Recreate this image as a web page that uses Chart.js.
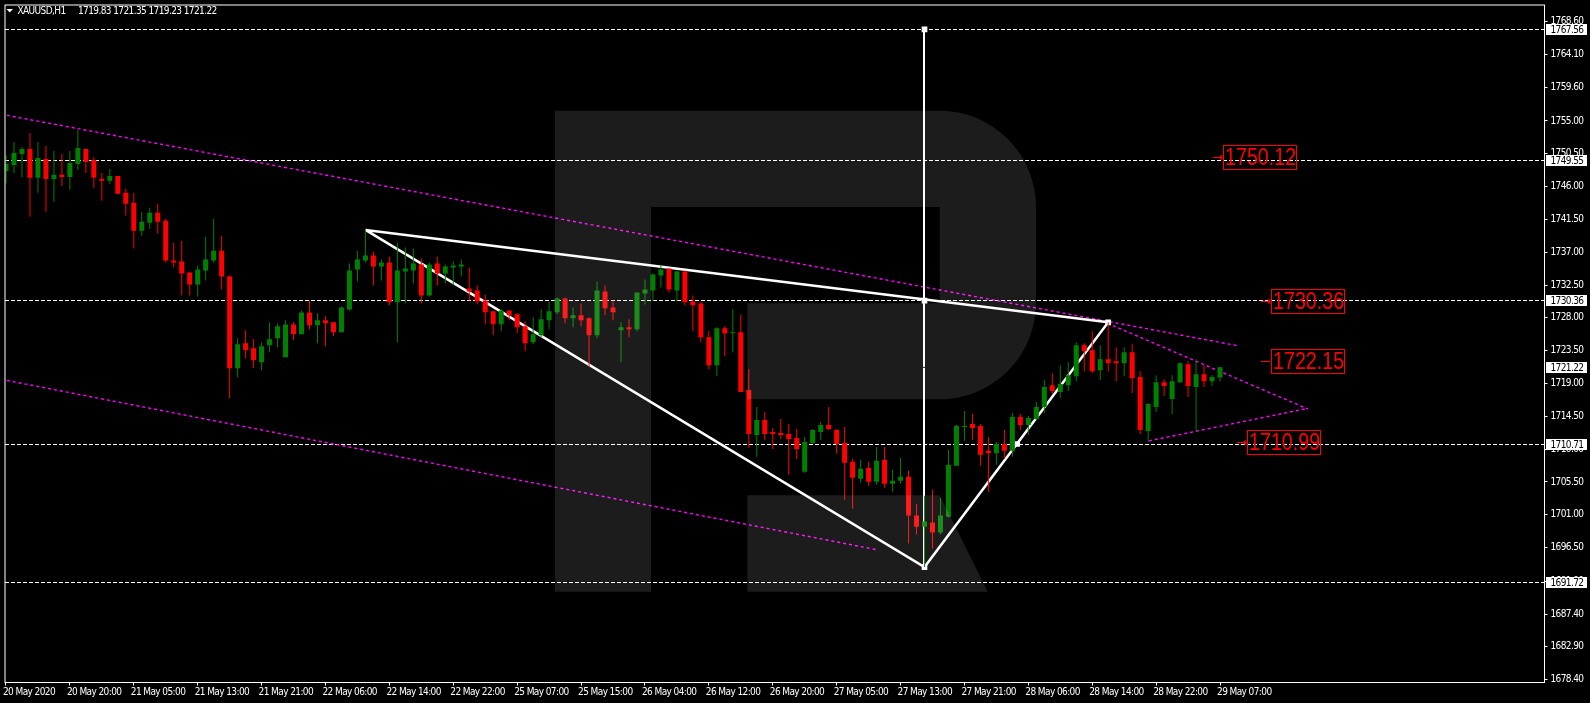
<!DOCTYPE html>
<html>
<head>
<meta charset="utf-8">
<title>XAUUSD,H1</title>
<script src="https://cdn.jsdelivr.net/npm/chart.js@4"></script>
<style>
  html, body { margin: 0; padding: 0; background: #000; overflow: hidden; }
  canvas { display: block; }
</style>
</head>
<body>
<canvas id="chart" width="1590" height="703"></canvas>
<script>
// --- DATA ---
const symbolName = 'XAUUSD,H1';

const opens = [
  1748.15,1748.97,1750.48,1751.16,1747.20,1749.79,1747.06,1747.61,1747.33,1749.11,
  1751.16,1749.66,1747.06,1746.79,1747.47,1745.15,1743.78,1739.96,1741.05,1742.42,
  1741.32,1735.86,1735.72,1734.22,1732.58,1734.49,1735.86,1737.22,1733.67,1721.10,
  1724.52,1723.83,1721.92,1724.24,1725.20,1722.61,1727.11,1725.75,1728.75,1726.98,
  1727.66,1727.39,1726.02,1729.16,1734.63,1735.87,1736.55,1735.05,1735.59,1730.13,
  1734.36,1734.50,1735.32,1731.08,1735.46,1734.09,1734.91,1735.05,1732.04,1731.77,
  1730.40,1728.90,1727.12,1729.03,1728.49,1726.85,1724.66,1725.62,1727.67,1728.76,
  1730.67,1727.94,1728.35,1727.94,1725.62,1731.63,1729.44,1726.30,1726.71,1726.44,
  1731.36,1731.77,1733.82,1734.77,1731.77,1734.36,1730.26,1729.99,1725.34,1721.52,
  1726.57,1725.89,1726.02,1718.10,1711.95,1714.00,1712.36,1712.23,1712.09,1711.54,
  1706.90,1710.86,1712.36,1713.32,1712.64,1710.86,1708.26,1705.94,1707.44,1705.53,
  1708.54,1705.26,1705.67,1706.21,1700.89,1699.38,1699.93,1698.56,1700.75,1707.72,
  1713.05,1713.46,1713.18,1709.77,1709.49,1710.72,1709.77,1714.41,1713.32,1714.14,
  1715.78,1718.78,1717.83,1718.78,1720.01,1724.25,1723.57,1720.83,1722.34,1722.06,
  1721.79,1723.29,1719.88,1712.50,1715.78,1719.19,1716.87,1719.19,1721.65,1718.51,
  1720.29,1719.33,1719.83
];
const highs = [
  1750.29,1752.12,1751.43,1753.34,1752.12,1751.57,1750.89,1750.48,1750.89,1753.75,
  1751.16,1750.07,1747.88,1748.43,1747.47,1745.69,1745.15,1742.55,1743.10,1743.64,
  1741.60,1738.32,1738.59,1734.35,1735.17,1739.14,1741.60,1739.27,1733.81,1725.20,
  1726.29,1725.06,1724.65,1727.39,1727.25,1727.66,1727.39,1729.03,1730.39,1728.62,
  1728.21,1727.39,1729.57,1735.45,1737.22,1740.06,1737.10,1736.00,1736.41,1738.32,
  1737.64,1737.51,1736.14,1735.59,1736.41,1735.32,1735.73,1736.00,1734.91,1732.45,
  1731.22,1728.90,1729.17,1729.03,1728.62,1727.53,1728.08,1729.17,1730.26,1730.81,
  1730.81,1729.44,1729.99,1728.08,1733.00,1732.45,1730.40,1727.40,1727.81,1731.49,
  1733.27,1734.09,1735.27,1734.77,1734.50,1734.50,1731.08,1730.26,1726.16,1726.71,
  1726.84,1729.17,1728.48,1720.97,1715.78,1715.10,1712.91,1714.14,1713.46,1712.77,
  1711.68,1712.77,1713.73,1715.78,1712.77,1713.05,1708.67,1708.54,1708.26,1710.31,
  1710.31,1707.17,1708.81,1707.03,1702.53,1703.62,1704.44,1703.35,1709.90,1713.32,
  1715.23,1714.82,1713.46,1711.68,1711.00,1712.64,1714.96,1714.82,1714.55,1716.46,
  1719.47,1720.42,1721.52,1721.93,1724.66,1724.52,1726.16,1724.25,1727.39,1723.98,
  1723.98,1724.39,1720.70,1716.32,1720.15,1719.60,1720.15,1721.93,1722.06,1722.34,
  1721.52,1720.15,1721.35
];
const lows = [
  1746.42,1747.88,1747.33,1741.87,1745.15,1742.55,1743.92,1746.10,1745.56,1748.29,
  1747.88,1745.83,1744.05,1746.38,1744.87,1742.01,1737.50,1739.27,1740.23,1739.55,
  1735.58,1734.90,1731.08,1731.08,1730.94,1733.13,1735.58,1731.90,1717.00,1719.87,
  1722.47,1721.10,1720.83,1723.29,1723.97,1722.61,1724.93,1725.75,1726.43,1724.52,
  1724.11,1725.47,1726.02,1729.03,1732.99,1735.59,1732.45,1733.13,1729.72,1724.66,
  1729.99,1732.72,1729.99,1730.95,1732.45,1732.72,1732.45,1733.68,1730.40,1729.85,
  1727.12,1725.62,1726.17,1727.67,1725.89,1723.43,1724.39,1725.35,1726.44,1728.49,
  1727.26,1726.71,1726.85,1721.25,1725.21,1728.35,1727.67,1721.93,1725.35,1726.17,
  1729.85,1730.26,1732.18,1731.49,1730.26,1729.72,1726.17,1724.66,1720.97,1720.01,
  1722.75,1723.29,1717.83,1710.18,1708.95,1711.27,1710.04,1711.41,1706.49,1708.67,
  1706.76,1710.72,1711.27,1712.64,1709.36,1703.07,1701.84,1705.40,1704.99,1705.12,
  1704.71,1704.17,1705.26,1697.06,1698.29,1693.83,1696.38,1698.29,1700.61,1707.72,
  1711.13,1711.27,1707.72,1704.17,1707.85,1708.67,1708.95,1712.64,1711.95,1714.00,
  1714.96,1717.55,1717.01,1717.96,1719.33,1720.70,1720.42,1719.47,1720.70,1719.33,
  1720.01,1717.69,1712.09,1711.00,1715.10,1717.28,1714.82,1719.06,1717.14,1712.36,
  1718.51,1718.65,1719.23
];
const closes = [
  1749.11,1750.61,1751.16,1747.20,1749.93,1747.06,1747.61,1747.33,1749.25,1751.30,
  1749.38,1747.20,1746.79,1747.47,1745.01,1743.64,1739.96,1741.19,1742.42,1741.19,
  1735.86,1735.58,1734.08,1732.58,1734.63,1735.99,1737.22,1733.67,1721.10,1724.38,
  1723.56,1722.20,1724.11,1725.06,1726.84,1727.11,1725.75,1728.75,1726.98,1727.66,
  1727.25,1726.02,1729.44,1734.49,1735.99,1736.55,1735.05,1735.59,1730.13,1734.50,
  1734.77,1735.46,1731.08,1735.32,1734.09,1735.05,1735.18,1735.32,1731.63,1730.26,
  1728.76,1727.12,1729.03,1728.35,1726.71,1724.53,1725.76,1727.81,1728.90,1730.67,
  1727.94,1728.35,1727.67,1725.62,1731.77,1729.31,1728.76,1726.71,1726.44,1731.49,
  1731.90,1733.95,1734.64,1731.90,1734.36,1730.13,1729.72,1725.35,1721.52,1726.57,
  1725.89,1726.02,1717.83,1712.09,1714.00,1712.09,1712.09,1711.95,1711.41,1710.04,
  1711.00,1712.64,1713.32,1712.77,1710.72,1708.13,1706.08,1707.31,1705.53,1708.40,
  1705.26,1705.67,1706.21,1700.89,1699.38,1700.07,1698.56,1700.89,1707.85,1713.18,
  1713.18,1712.91,1709.22,1709.49,1710.72,1709.77,1714.41,1713.32,1714.28,1715.78,
  1718.51,1717.96,1718.92,1720.15,1724.25,1723.43,1720.70,1722.34,1721.79,1721.79,
  1723.29,1719.74,1712.64,1716.19,1719.19,1718.65,1719.33,1721.79,1718.65,1720.29,
  1719.33,1719.88,1721.22
];

const xLabels = [
  '20 May 2020','20 May 20:00','21 May 05:00','21 May 13:00','21 May 21:00',
  '22 May 06:00','22 May 14:00','22 May 22:00','25 May 07:00','25 May 15:00',
  '26 May 04:00','26 May 12:00','26 May 20:00','27 May 05:00','27 May 13:00',
  '27 May 21:00','28 May 06:00','28 May 14:00','28 May 22:00','29 May 07:00'
];
const barsPerLabel = 8;
const yTicks = [
  1768.6,1764.1,1759.6,1755,1750.5,1746,1741.5,1737,1732.5,1728,1723.5,
  1719,1714.5,1710,1705.5,1701,1696.5,1691.9,1687.4,1682.9,1678.4
];

// dashed horizontal levels and their white tags on the price axis
const levels = [1767.56, 1749.55, 1730.36, 1710.71, 1691.72];

// drawn objects, as [bar number, price]
const triangle = [[45, 1740.06], [115, 1693.83], [138, 1727.39], [45, 1740.06]];
const verticalLine = [[115, 1767.56], [115, 1693.83]];
const anchors = [[115, 1767.56], [115, 1730.36], [115, 1693.83], [138, 1727.39], [126.6, 1710.71]];
const channelTop = [[0.1, 1755.77], [154.1, 1724.21]];
const channelBottom = [[0.1, 1719.43], [109.1, 1696.2]];
const wedgeTop = [[137.9, 1727.26], [163, 1715.51]];
const wedgeBottom = [[143.1, 1711.14], [163, 1715.6]];

// red target labels
const targetPrices = [1750.12, 1730.36, 1722.15, 1710.99];
const targetBars = [152.2, 158.2, 158.2, 155.2];

// --- CHART ---
const WHITE = '#ffffff';
const RED = '#ff0000';
const GREEN = '#008000';
const MAGENTA = '#ff00ff';
const axisFont = { family: '"DejaVu Sans Condensed", "DejaVu Sans", sans-serif', size: 10 };
const axisFontCss = '10px "DejaVu Sans Condensed", "DejaVu Sans", sans-serif';
const bigFontCss = '24px "Liberation Sans", sans-serif';
const axisSpacing = '-0.6px';

const barColors = closes.map((c, i) => (c >= opens[i] ? GREEN : RED));
const toPoints = list => list.map(p => ({ x: p[0], y: p[1] }));
const xMin = -0.125;
const xMax = 192.625;

function lineSet(points, color, width, dash, order, snap) {
  return {
    type: 'line', data: toPoints(points), borderColor: color, borderWidth: width,
    borderDash: dash, pointRadius: 0, tension: 0, order: order, snap: snap
  };
}

const datasets = [
  // candles stay in front of the drawn objects
  {
    type: 'bar', label: 'bodies', order: 1, grouped: false,
    data: closes.map((c, i) => ({ x: i, y: [opens[i], c] })),
    backgroundColor: barColors, barThickness: 5, minBarLength: 1, inflateAmount: 0, borderWidth: 0
  },
  {
    type: 'bar', label: 'wicks', order: 2, grouped: false,
    data: highs.map((h, i) => ({ x: i, y: [lows[i], h] })),
    backgroundColor: barColors, barThickness: 1, inflateAmount: 0, borderWidth: 0
  },
  {
    type: 'line', label: 'anchors', order: 3, showLine: false, data: toPoints(anchors),
    pointStyle: 'rect', pointRadius: 4, pointBackgroundColor: WHITE, pointBorderWidth: 0
  },
  {
    type: 'line', label: 'now', order: 3, showLine: false,
    data: [{ x: 115, y: closes[closes.length - 1] }],
    pointStyle: 'line', pointRadius: 1.5, pointBorderColor: '#000000', pointBorderWidth: 1
  },
  lineSet(verticalLine, WHITE, 2, [], 4, 'x'),
  lineSet(triangle, WHITE, 2.5, [], 5),
  lineSet(channelTop, MAGENTA, 1.4, [3, 3], 6),
  lineSet(channelBottom, MAGENTA, 1.4, [3, 3], 6),
  lineSet(wedgeTop, MAGENTA, 1.4, [3, 3], 6),
  lineSet(wedgeBottom, MAGENTA, 1.4, [3, 3], 6)
];
levels.forEach(v => {
  datasets.push(lineSet([[xMin, v], [xMax, v]], WHITE, 1, [4, 2], 7, 'y'));
});

// the big faint R sits over everything as a see-through white shape
function drawWatermark(ctx) {
  ctx.save();
  ctx.fillStyle = 'rgba(255,255,255,0.11)';
  ctx.beginPath();
  ctx.moveTo(555, 110.7);
  ctx.lineTo(939.7, 110.7);
  ctx.arc(939.7, 207, 96.3, -Math.PI / 2, 0);
  ctx.lineTo(1036, 303);
  ctx.arc(939.7, 303, 96.3, 0, Math.PI / 2);
  ctx.lineTo(747.3, 399.3);
  ctx.lineTo(747.3, 303.3);
  ctx.lineTo(939.7, 303.3);
  ctx.lineTo(939.7, 207);
  ctx.lineTo(651, 207);
  ctx.lineTo(651, 591.7);
  ctx.lineTo(555, 591.7);
  ctx.closePath();
  ctx.moveTo(747.3, 495.3);
  ctx.lineTo(939.7, 495.3);
  ctx.lineTo(987.7, 591.7);
  ctx.lineTo(747.3, 591.7);
  ctx.closePath();
  ctx.fill();
  ctx.restore();
}

function drawTargets(chart) {
  const ctx = chart.ctx;
  ctx.save();
  ctx.font = bigFontCss;
  ctx.letterSpacing = '0px';
  ctx.textBaseline = 'middle';
  ctx.textAlign = 'left';
  targetPrices.forEach((price, i) => {
    const x = Math.round(chart.scales.x.getPixelForValue(targetBars[i]));
    const y = Math.round(chart.scales.y.getPixelForValue(price));
    ctx.strokeStyle = RED;
    ctx.fillStyle = RED;
    ctx.lineWidth = 1;
    ctx.beginPath();
    ctx.moveTo(x - 9, y + 0.5);
    ctx.lineTo(x, y + 0.5);
    ctx.stroke();
    if (i !== 2) {
      ctx.strokeRect(x - 1.5, y - 1, 3, 3);
    }
    ctx.strokeRect(x + 1.5, y - 11.5, 73, 24);
    // the label font is narrower than anything installed, so squeeze it sideways
    ctx.save();
    ctx.translate(x + 3, y + 1.5);
    ctx.scale(0.82, 1);
    ctx.fillText(price.toFixed(2), 0, 0);
    ctx.restore();
  });
  ctx.restore();
}

function drawPriceTags(chart) {
  const ctx = chart.ctx;
  ctx.save();
  ctx.font = axisFontCss;
  ctx.textBaseline = 'middle';
  ctx.textAlign = 'left';
  levels.concat(closes[closes.length - 1]).forEach(v => {
    const y = Math.floor(chart.scales.y.getPixelForValue(v));
    ctx.fillStyle = WHITE;
    ctx.fillRect(1546, y - 5, 41, 11);
    ctx.fillStyle = '#000000';
    ctx.fillText(v.toFixed(2), 1550.5, y + 1);
  });
  ctx.restore();
}

function drawHeader(chart) {
  const ctx = chart.ctx;
  const last = closes.length - 1;
  ctx.save();
  ctx.fillStyle = WHITE;
  ctx.beginPath();
  ctx.moveTo(6.5, 9);
  ctx.lineTo(13, 9);
  ctx.lineTo(9.75, 12.5);
  ctx.closePath();
  ctx.fill();
  ctx.font = axisFontCss;
  ctx.textBaseline = 'middle';
  ctx.textAlign = 'left';
  ctx.fillText(symbolName, 17.5, 11);
  const ohlc = [opens[last], highs[last], lows[last], closes[last]].map(v => v.toFixed(2)).join(' ');
  ctx.fillText(ohlc, 78, 11);
  ctx.restore();
}

const mtPlugin = {
  id: 'mtLook',
  beforeDraw(chart) {
    chart.ctx.letterSpacing = axisSpacing;
  },
  // keep the thin straight lines on whole pixels so they stay sharp
  afterDatasetsUpdate(chart) {
    chart.data.datasets.forEach((ds, i) => {
      if (!ds.snap) return;
      chart.getDatasetMeta(i).data.forEach(pt => {
        if (ds.snap === 'y') pt.y = Math.floor(pt.y) + 0.5;
        if (ds.snap === 'x') pt.x = Math.floor(pt.x);
      });
    });
  },
  afterDatasetsDraw(chart) {
    drawWatermark(chart.ctx);
  },
  afterDraw(chart) {
    const a = chart.chartArea;
    const ctx = chart.ctx;
    ctx.save();
    ctx.strokeStyle = WHITE;
    ctx.lineWidth = 1;
    ctx.strokeRect(a.left, a.top, a.right - a.left, a.bottom - a.top);
    ctx.restore();
    drawTargets(chart);
    drawPriceTags(chart);
    drawHeader(chart);
  }
};

// chart.js keeps room for half a label at the axis ends, we don't want that here
function noScalePadding(scale) {
  scale.paddingLeft = 0;
  scale.paddingRight = 0;
  scale.paddingTop = 0;
  scale.paddingBottom = 0;
}

new Chart(document.getElementById('chart'), {
  data: { datasets: datasets },
  plugins: [mtPlugin],
  options: {
    responsive: false,
    devicePixelRatio: 1,
    animation: false,
    layout: { padding: { left: 2.5, top: 2.5, right: 0, bottom: 0 } },
    plugins: { legend: { display: false }, tooltip: { enabled: false } },
    scales: {
      x: {
        type: 'linear',
        offset: false,
        min: xMin,
        max: xMax,
        afterFit(scale) { scale.height = 20.5; noScalePadding(scale); },
        afterBuildTicks(scale) {
          scale.ticks = xLabels.map((t, i) => ({ value: i * barsPerLabel }));
        },
        border: { display: false },
        grid: { display: true, drawOnChartArea: false, offset: false, color: WHITE, tickLength: 3 },
        ticks: {
          color: WHITE, font: axisFont, align: 'start', autoSkip: false, maxRotation: 0, padding: 1, labelOffset: -3,
          callback: value => xLabels[value / barsPerLabel]
        }
      },
      y: {
        type: 'linear',
        position: 'right',
        min: 1678.01,
        max: 1770.9,
        afterFit(scale) { scale.width = 45.5; noScalePadding(scale); },
        afterBuildTicks(scale) {
          scale.ticks = yTicks.map(v => ({ value: v }));
        },
        border: { display: false },
        grid: { display: true, drawOnChartArea: false, color: WHITE, tickLength: 3 },
        ticks: {
          color: WHITE, font: axisFont, autoSkip: false, padding: 3,
          callback: value => value.toFixed(2)
        }
      }
    }
  }
});
</script>
</body>
</html>
